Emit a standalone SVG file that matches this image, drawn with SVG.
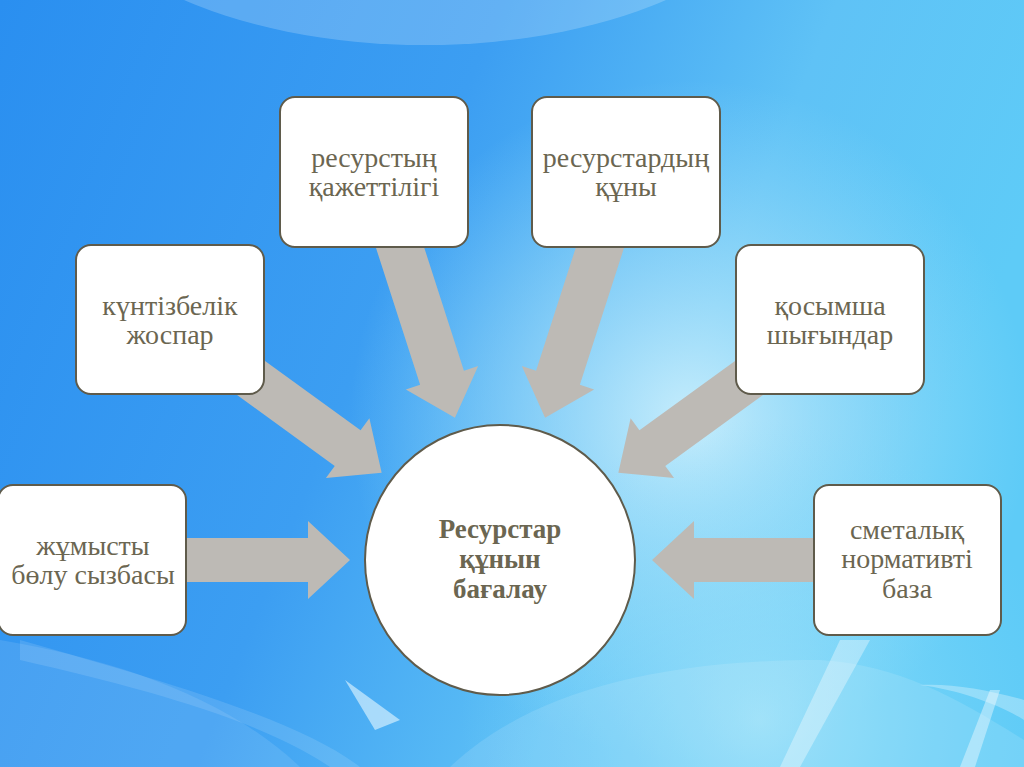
<svg xmlns="http://www.w3.org/2000/svg" width="1024" height="767" viewBox="0 0 1024 767">
<defs>
<linearGradient id="bg" x1="0" y1="0" x2="1" y2="0.3">
<stop offset="0" stop-color="#2a8ff0"/>
<stop offset="0.45" stop-color="#3c9ef2"/>
<stop offset="0.75" stop-color="#5fc2f6"/>
<stop offset="1" stop-color="#5ecbf7"/>
</linearGradient>
<radialGradient id="glow" cx="690" cy="420" r="340" gradientUnits="userSpaceOnUse">
<stop offset="0" stop-color="#d8f4fd" stop-opacity="0.85"/>
<stop offset="0.5" stop-color="#b4e6fa" stop-opacity="0.5"/>
<stop offset="1" stop-color="#9fe0fa" stop-opacity="0"/>
</radialGradient>
<radialGradient id="glow2" cx="760" cy="720" r="300" gradientUnits="userSpaceOnUse">
<stop offset="0" stop-color="#a8e6fa" stop-opacity="0.7"/>
<stop offset="1" stop-color="#7dd6f8" stop-opacity="0"/>
</radialGradient>
<style>
.box{fill:#fff;stroke:#5f5b4b;stroke-width:2}
.arr{fill:#bdbab5}
.t{font-family:"Liberation Serif","Times New Roman",serif;font-size:28px;fill:#6b6651;text-anchor:middle}
.tb{font-weight:bold;font-size:27px}
</style>
</defs>
<rect width="1024" height="767" fill="url(#bg)"/>
<rect width="1024" height="767" fill="url(#glow)"/>
<rect width="1024" height="767" fill="url(#glow2)"/>
<ellipse cx="425" cy="-130" rx="360" ry="175" fill="#ffffff" opacity="0.2"/>
<path d="M0,640 C120,660 230,700 300,767 L0,767 Z" fill="#ffffff" opacity="0.1"/>
<path d="M20,640 C160,680 300,720 360,767 L330,767 C260,720 150,690 20,660 Z" fill="#ffffff" opacity="0.12"/>
<path d="M345,680 L400,720 L375,730 Z" fill="#e8f8ff" opacity="0.6"/>
<path d="M450,767 C520,700 640,660 820,660 C900,665 960,700 1024,740 L1024,767 Z" fill="#ffffff" opacity="0.12"/>
<path d="M840,640 L780,767 L800,767 L870,640 Z" fill="#ffffff" opacity="0.35"/>
<path d="M990,690 L960,767 L975,767 L1000,690 Z" fill="#ffffff" opacity="0.4"/>
<path d="M920,685 C960,690 1000,705 1024,720 L1024,700 C990,690 950,683 920,685 Z" fill="#ffffff" opacity="0.3"/>
<g id="connectors">
<path class="arr" transform="translate(186,560)" d="M0,-22 H122 V-39 L164,0 L122,39 V22 H0 Z"/>
<path class="arr" transform="translate(814,560) rotate(180)" d="M0,-22 H120 V-39 L162,0 L120,39 V22 H0 Z"/>
<path class="arr" transform="translate(396,235) rotate(72.13)" d="M0,-23 H150 V-38 L192,0 L150,38 V23 H0 Z"/>
<path class="arr" transform="translate(604,235) rotate(107.87)" d="M0,-23 H150 V-38 L192,0 L150,38 V23 H0 Z"/>
<path class="arr" transform="translate(240,370) rotate(35.96)" d="M0,-22 H133 V-37 L175,0 L133,37 V22 H0 Z"/>
<path class="arr" transform="translate(760,370) rotate(144.04)" d="M0,-22 H133 V-37 L175,0 L133,37 V22 H0 Z"/>
</g>
<g id="n-kazhettilik">
<rect class="box" x="280" y="97" width="188" height="150" rx="15"/>
<text class="t" x="374" y="167">ресурстың</text>
<text class="t" x="374" y="196">қажеттілігі</text>
</g>
<g id="n-kuny">
<rect class="box" x="532" y="97" width="188" height="150" rx="15"/>
<text class="t" x="626" y="167">ресурстардың</text>
<text class="t" x="626" y="196">құны</text>
</g>
<g id="n-kuntizbelik">
<rect class="box" x="76" y="245" width="188" height="149" rx="15"/>
<text class="t" x="170" y="315">күнтізбелік</text>
<text class="t" x="170" y="344">жоспар</text>
</g>
<g id="n-kosymsha">
<rect class="box" x="736" y="245" width="188" height="149" rx="15"/>
<text class="t" x="830" y="315">қосымша</text>
<text class="t" x="830" y="344">шығындар</text>
</g>
<g id="n-zhumysty">
<rect class="box" x="-2" y="485" width="188" height="150" rx="15"/>
<text class="t" x="93" y="555">жұмысты</text>
<text class="t" x="93" y="584">бөлу сызбасы</text>
</g>
<g id="n-smetalyk">
<rect class="box" x="814" y="485" width="187" height="150" rx="15"/>
<text class="t" x="907" y="539">сметалық</text>
<text class="t" x="907" y="568">нормативті</text>
<text class="t" x="907" y="598">база</text>
</g>
<g id="n-center">
<circle class="box" cx="500" cy="560" r="135"/>
<text class="t tb" x="500" y="538">Ресурстар</text>
<text class="t tb" x="500" y="568">құнын</text>
<text class="t tb" x="500" y="598">бағалау</text>
</g>
</svg>
